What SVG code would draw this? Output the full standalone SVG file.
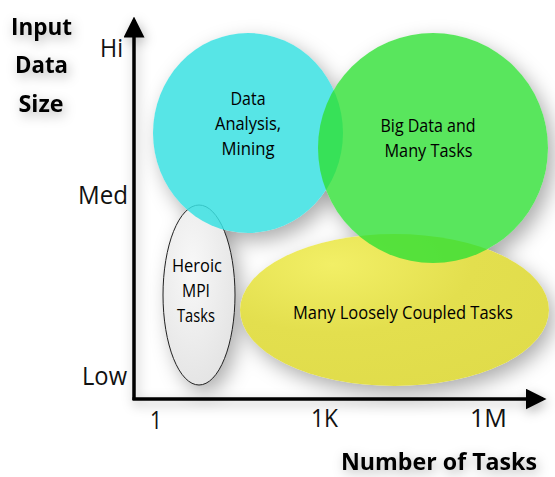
<svg xmlns="http://www.w3.org/2000/svg" width="555" height="477" viewBox="0 0 555 477">
<defs>
<filter id="blur" x="-30%" y="-30%" width="160%" height="160%">
<feGaussianBlur stdDeviation="10"/>
</filter>
<filter id="tsh" x="-40%" y="-40%" width="180%" height="180%">
<feDropShadow dx="2" dy="4" stdDeviation="6" flood-color="#000" flood-opacity="0.3"/>
</filter>
<radialGradient id="hg" cx="0.4" cy="0.35" r="0.75">
<stop offset="0" stop-color="#f8f8f8"/>
<stop offset="1" stop-color="#e2e2e2"/>
</radialGradient>
<radialGradient id="yg" cx="0.3" cy="0.2" r="0.9">
<stop offset="0" stop-color="#f2ef66"/>
<stop offset="0.5" stop-color="#e3df4e"/>
<stop offset="1" stop-color="#e0dc4a"/>
</radialGradient>
<marker id="ah" markerWidth="6" markerHeight="6" refX="5" refY="3" orient="auto" markerUnits="strokeWidth">
<path d="M0,0 L6,3 L0,6 z" fill="#000"/>
</marker>
</defs>
<style>
.lbl{font-family:"Open Sans","Liberation Sans",sans-serif;font-size:26px;fill:#111}
.ttl{font-family:"Open Sans","Liberation Sans",sans-serif;font-size:24px;font-weight:bold;fill:#000}
.in{font-family:"Open Sans","Liberation Sans",sans-serif;font-size:18px;fill:#000;text-anchor:middle}
.shd{fill:#000;fill-opacity:0.32}
.base{fill:#fff}
</style>
<rect width="555" height="477" fill="#fff"/>
<g id="shadows" filter="url(#blur)">
<ellipse class="shd" cx="205" cy="303" rx="36" ry="90"/>
<ellipse class="shd" cx="400" cy="318" rx="154" ry="76"/>
<ellipse class="shd" cx="254" cy="141" rx="95" ry="100"/>
<circle class="shd" cx="439" cy="156" r="115"/>
</g>
<g id="bases">
<ellipse class="base" cx="394.5" cy="310" rx="154.5" ry="76"/>
<ellipse class="base" cx="248" cy="133" rx="95" ry="100"/>
<circle class="base" cx="433" cy="148" r="115"/>
</g>
<g id="axes-labels" filter="url(#tsh)">
<text class="ttl" x="41.5" y="35" text-anchor="middle" textLength="61" lengthAdjust="spacingAndGlyphs">Input</text>
<text class="ttl" x="41.5" y="73" text-anchor="middle" textLength="53" lengthAdjust="spacingAndGlyphs">Data</text>
<text class="ttl" x="41" y="112" text-anchor="middle" textLength="45" lengthAdjust="spacingAndGlyphs">Size</text>
<text class="ttl" x="341" y="470" textLength="196" lengthAdjust="spacingAndGlyphs">Number of Tasks</text>
</g>
<g id="tick-labels">
<text class="lbl" x="100" y="57" textLength="23" lengthAdjust="spacingAndGlyphs">Hi</text>
<text class="lbl" x="78" y="204" textLength="50" lengthAdjust="spacingAndGlyphs">Med</text>
<text class="lbl" x="82" y="385" textLength="45" lengthAdjust="spacingAndGlyphs">Low</text>
<text class="lbl" x="150" y="429" textLength="12" lengthAdjust="spacingAndGlyphs">1</text>
<text class="lbl" x="311" y="427" textLength="27" lengthAdjust="spacingAndGlyphs">1K</text>
<text class="lbl" x="470" y="427" textLength="37" lengthAdjust="spacingAndGlyphs">1M</text>
</g>
<g id="connectors" filter="url(#tsh)">
<line x1="134" y1="400" x2="134" y2="20" stroke="#000" stroke-width="3.5" marker-end="url(#ah)"/>
<line x1="132.5" y1="399" x2="543" y2="399" stroke="#000" stroke-width="3.5" marker-end="url(#ah)"/>
</g>
<g id="heroic">
<ellipse cx="199" cy="295" rx="36" ry="90" fill="url(#hg)" stroke="#222" stroke-width="1"/>
<text class="in" x="197" y="272" textLength="50" lengthAdjust="spacingAndGlyphs">Heroic</text>
<text class="in" x="196" y="297" textLength="28" lengthAdjust="spacingAndGlyphs">MPI</text>
<text class="in" x="196" y="322" textLength="38" lengthAdjust="spacingAndGlyphs">Tasks</text>
</g>
<g id="mtc">
<ellipse cx="394.5" cy="310" rx="154.5" ry="76" fill="url(#yg)"/>
<text class="in" x="403" y="319" textLength="220" lengthAdjust="spacingAndGlyphs">Many Loosely Coupled Tasks</text>
</g>
<g id="data-analysis">
<ellipse cx="248" cy="133" rx="95" ry="100" fill="#3ae0e2" fill-opacity="0.85"/>
<text class="in" x="248" y="105" textLength="35" lengthAdjust="spacingAndGlyphs">Data</text>
<text class="in" x="248" y="130" textLength="66" lengthAdjust="spacingAndGlyphs">Analysis,</text>
<text class="in" x="248" y="155" textLength="53" lengthAdjust="spacingAndGlyphs">Mining</text>
</g>
<g id="big-data">
<circle cx="433" cy="148" r="115" fill="#30e035" fill-opacity="0.8"/>
<text class="in" x="428" y="132" textLength="95" lengthAdjust="spacingAndGlyphs">Big Data and</text>
<text class="in" x="428.5" y="157" textLength="88" lengthAdjust="spacingAndGlyphs">Many Tasks</text>
</g>
</svg>
